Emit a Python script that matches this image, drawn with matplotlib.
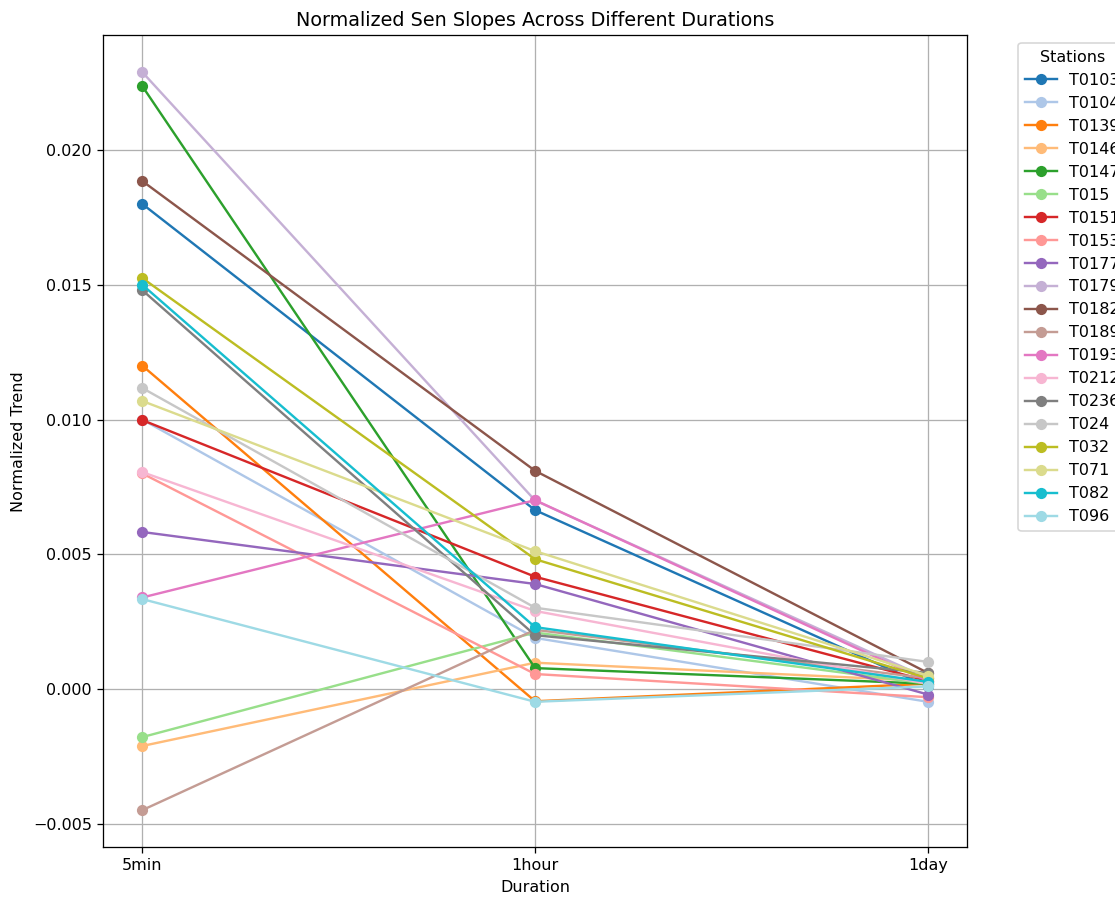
import numpy as np
import matplotlib.pyplot as plt

# Data
durations = ['5min', '1hour', '1day']
stations = ['T0103', 'T0104', 'T0139', 'T0146', 'T0147', 'T015', 'T0151', 'T0153',
            'T0177', 'T0179', 'T0182', 'T0189', 'T0193', 'T0212', 'T0236', 'T024',
            'T032', 'T071', 'T082', 'T096']

T0103 = [0.0180, 0.00664, 0.0001]
T0104 = [0.0100, 0.0019, -0.00047]
T0139 = [0.0120, -0.00045, 0.0002]
T0146 = [-0.00211, 0.00098, 0.0003]
T0147 = [0.02237, 0.00078, 0.0002]
T015 = [-0.00178, 0.0021, 0.0002]
T0151 = [0.00998, 0.00417, 0.0003]
T0153 = [0.0080, 0.00056, -0.0003]
T0177 = [0.00583, 0.0039, -0.0002]
T0179 = [0.02289, 0.0070, 0.0004]
T0182 = [0.01885, 0.0081, 0.0006]
T0189 = [-0.00449, 0.0022, 0.0004]
T0193 = [0.0034, 0.00701, 0.0003]
T0212 = [0.00805, 0.0029, 0.0002]
T0236 = [0.0148, 0.0020, 0.0006]
T024 = [0.01117, 0.00302, 0.00101]
T032 = [0.01525, 0.00482, 0.0004]
T071 = [0.01069, 0.00512, 0.0005]
T082 = [0.0150, 0.0023, 0.00027]
T096 = [0.00334, -0.00047, 0.0001]

values = [T0103, T0104, T0139, T0146, T0147, T015, T0151, T0153, T0177, T0179,
          T0182, T0189, T0193, T0212, T0236, T024, T032, T071, T082, T096]

# vse je v referenci zvetseno cca 1.15x -> vyssi dpi
DPI = 115
fig = plt.figure(figsize=(1115 / DPI, 897 / DPI), dpi=DPI)
ax = fig.add_axes([0.0924, 0.0557, 0.775, 0.905])

colors = plt.cm.tab20(np.arange(20))
for i, (name, vals) in enumerate(zip(stations, values)):
    ax.plot(durations, vals, marker='o', color=colors[i], label=name)

ax.set_title('Normalized Sen Slopes Across Different Durations')
ax.set_xlabel('Duration')
ax.set_ylabel('Normalized Trend')
ax.grid(True)
ax.legend(title='Stations', bbox_to_anchor=(1.05, 1), loc='upper left')

fig.savefig('out.png', dpi=DPI)
